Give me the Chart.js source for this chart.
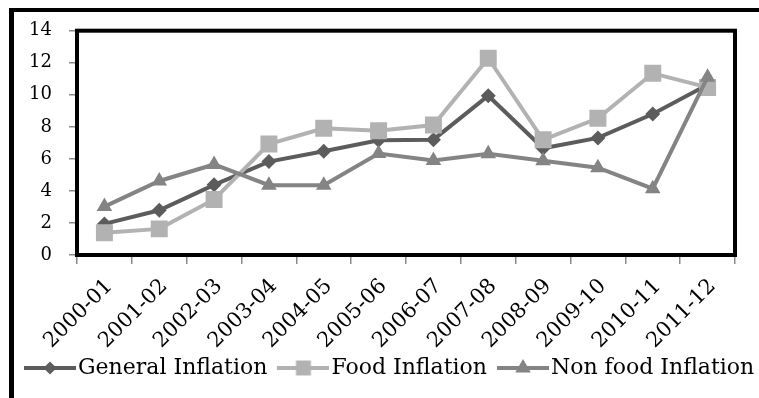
<!DOCTYPE html>
<html>
<head>
<meta charset="utf-8">
<script src="https://cdn.jsdelivr.net/npm/chart.js@4.4.0/dist/chart.umd.min.js"></script>
<style>
  html, body { margin: 0; padding: 0; background: #fff; overflow: hidden; width: 759px; height: 398px; }
  #frame { position: absolute; left: 9px; top: 8px; width: 900px; height: 500px;
           border-left: 5px solid #000; border-top: 4px solid #000; }
  #wrap { position: absolute; left: 14px; top: 12px; width: 900px; height: 420px; }
</style>
</head>
<body>
<div id="frame"></div>
<div id="wrap"><canvas id="c" width="900" height="420"></canvas></div>
<script>
// Fiscal years
const years = ['2000-01', '2001-02', '2002-03', '2003-04', '2004-05', '2005-06',
               '2006-07', '2007-08', '2008-09', '2009-10', '2010-11', '2011-12'];
// Inflation rates (%)
const generalInflation = [1.94, 2.79, 4.38, 5.83, 6.48, 7.16, 7.20, 9.94, 6.66, 7.31, 8.80, 10.62];
const foodInflation    = [1.39, 1.63, 3.47, 6.93, 7.91, 7.76, 8.11, 12.28, 7.19, 8.53, 11.34, 10.46];
const nonFoodInflation = [3.02, 4.62, 5.65, 4.36, 4.35, 6.33, 5.90, 6.32, 5.88, 5.45, 4.14, 11.10];
const seriesNames = ['General Inflation', 'Food Inflation', 'Non food Inflation'];
const yTicks = [0, 2, 4, 6, 8, 10, 12, 14];

const SERIF = "'DejaVu Serif', serif";
const colGeneral = '#5c5c5c';
const colFood = '#b2b2b2';
const colNonFood = '#848484';

// Small line-and-marker swatch for the legend
function swatch(color, shape, size) {
  const cv = document.createElement('canvas');
  cv.width = 52; cv.height = 22;
  const g = cv.getContext('2d');
  const cx = 26, cy = 11;
  g.strokeStyle = color; g.lineWidth = 4;
  g.beginPath(); g.moveTo(0, cy); g.lineTo(52, cy); g.stroke();
  g.fillStyle = color;
  g.beginPath();
  if (shape === 'diamond') {
    g.moveTo(cx, cy - size); g.lineTo(cx + size, cy); g.lineTo(cx, cy + size); g.lineTo(cx - size, cy);
  } else if (shape === 'square') {
    g.rect(cx - size, cy - size, size * 2, size * 2);
  } else {
    g.moveTo(cx, cy - size); g.lineTo(cx + size * 0.866, cy + size / 2); g.lineTo(cx - size * 0.866, cy + size / 2);
  }
  g.closePath(); g.fill();
  return cv;
}
const legendIcons = [swatch(colGeneral, 'diamond', 6.5), swatch(colFood, 'square', 7.5), swatch(colNonFood, 'triangle', 9)];

// Thick frame around the plotting area
const plotFrame = {
  id: 'plotFrame',
  beforeDatasetsDraw(chart) {
    const { ctx, chartArea: a } = chart;
    ctx.save();
    ctx.strokeStyle = '#000';
    ctx.lineWidth = 4;
    ctx.strokeRect(a.left, a.top, a.right - a.left, a.bottom - a.top);
    ctx.restore();
  }
};

new Chart(document.getElementById('c'), {
  type: 'line',
  data: {
    labels: years,
    datasets: [
      { label: seriesNames[0], data: generalInflation, borderColor: colGeneral, backgroundColor: colGeneral,
        pointBackgroundColor: colGeneral, pointBorderWidth: 0, pointStyle: 'rectRot', pointRadius: 7.5,
        borderWidth: 4, tension: 0, order: 3 },
      { label: seriesNames[1], data: foodInflation, borderColor: colFood, backgroundColor: colFood,
        pointBackgroundColor: colFood, pointBorderWidth: 0, pointStyle: 'rect', pointRadius: 12,
        borderWidth: 4, tension: 0, order: 2 },
      { label: seriesNames[2], data: nonFoodInflation, borderColor: colNonFood, backgroundColor: colNonFood,
        pointBackgroundColor: colNonFood, pointBorderWidth: 0, pointStyle: 'triangle', pointRadius: 9,
        borderWidth: 4, tension: 0, order: 1 }
    ]
  },
  options: {
    responsive: false,
    animation: false,
    events: [],
    layout: { padding: { top: 18.7, left: 0, right: 0, bottom: 43 } },
    scales: {
      x: {
        offset: true,
        grid: { offset: true, drawOnChartArea: false, tickLength: 9, color: '#8a8a8a', lineWidth: 1.5 },
        border: { display: false },
        ticks: { color: '#000', font: { family: SERIF, size: 21 }, minRotation: 45, maxRotation: 45,
                 padding: 10, labelOffset: 5, autoSkip: false },
        afterFit(s) {
          s.height = 83; s.paddingLeft = 0; s.paddingRight = 0;
          // let the slanted year labels run past the axis box
          s._computeLabelArea = () => undefined;
        }
      },
      y: {
        min: 0, max: 14,
        afterBuildTicks(s) { s.ticks = yTicks.map(v => ({ value: v })); },
        grid: { drawOnChartArea: false, tickLength: 8, color: '#8a8a8a', lineWidth: 1.5 },
        border: { display: false },
        ticks: { color: '#000', font: { family: SERIF, size: 18 }, padding: 17 },
        afterFit(s) { s.width = 63; s.paddingTop = 0; s.paddingBottom = 0; }
      },
      yRight: {
        position: 'right',
        display: true,
        ticks: { display: false },
        grid: { display: false },
        border: { display: false },
        afterFit(s) { s.width = 179; s.paddingTop = 0; s.paddingBottom = 0; }
      }
    },
    plugins: {
      legend: {
        position: 'bottom',
        align: 'start',
        labels: {
          usePointStyle: true,
          pointStyleWidth: 34,
          color: '#000',
          font: { family: SERIF, size: 22 },
          padding: 19,
          sort: (a, b) => a.datasetIndex - b.datasetIndex,
          generateLabels(chart) {
            const items = Chart.defaults.plugins.legend.labels.generateLabels(chart);
            items.forEach(it => { it.pointStyle = legendIcons[it.datasetIndex]; });
            return items;
          }
        }
      },
      tooltip: { enabled: false }
    }
  },
  plugins: [plotFrame]
});
</script>
</body>
</html>
